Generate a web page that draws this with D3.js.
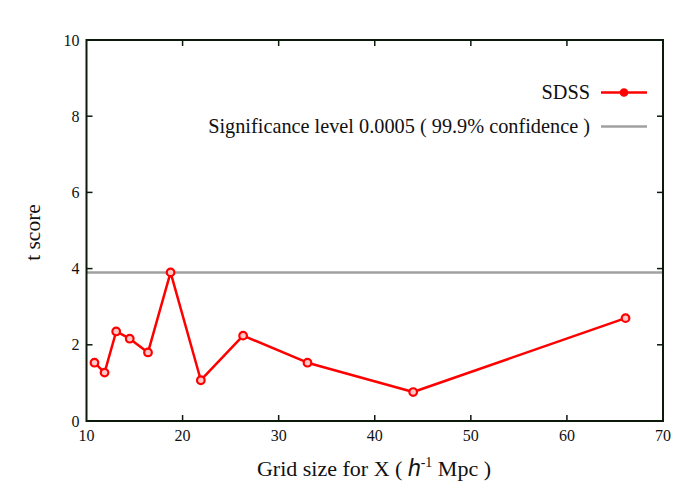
<!DOCTYPE html>
<html><head><meta charset="utf-8">
<script src="https://cdn.jsdelivr.net/npm/d3@7"></script>
<style>body{margin:0;background:#fff} text{font-family:"Liberation Serif","DejaVu Serif",serif}</style>
</head><body>
<svg id="c" width="700" height="500"></svg>
<script>
const gridSize = [10.83, 11.88, 13.09, 14.5, 16.4, 18.75, 21.9, 26.3, 33.0, 44.0, 66.1];
const tScore   = [1.53, 1.27, 2.35, 2.16, 1.80, 3.90, 1.07, 2.24, 1.53, 0.76, 2.70];
const sigLevel = 3.9;
const xTicks = [10, 20, 30, 40, 50, 60, 70];
const yTicks = [0, 2, 4, 6, 8, 10];
const seriesName = "SDSS";
const sigName = "Significance level 0.0005 ( 99.9% confidence )";

const svg = d3.select("#c");
const L = 86.5, R = 663, T = 40, B = 421;
const x = d3.scaleLinear().domain([10, 70]).range([L, R]);
const y = d3.scaleLinear().domain([0, 10]).range([B, T]);
const axisColor = "#0b1a0b";

svg.append("line").attr("x1", x(10)).attr("x2", x(70))
  .attr("y1", y(sigLevel)).attr("y2", y(sigLevel))
  .attr("stroke", "#a0a0a0").attr("stroke-width", 2.5);

const line = d3.line().x((d, i) => x(gridSize[i])).y(d => y(d));
svg.append("path").datum(tScore).attr("d", line)
  .attr("fill", "none").attr("stroke", "#ff0000").attr("stroke-width", 2.5)
  .attr("stroke-linejoin", "round");
svg.selectAll("circle.pt").data(tScore).enter().append("circle")
  .attr("class", "pt")
  .attr("cx", (d, i) => x(gridSize[i])).attr("cy", d => y(d)).attr("r", 3.8)
  .attr("fill", "#ffc8c8").attr("stroke", "#ff0000").attr("stroke-width", 2.2);

svg.append("rect").attr("x", L).attr("y", T).attr("width", R - L).attr("height", B - T)
  .attr("fill", "none").attr("stroke", axisColor).attr("stroke-width", 2);

const tl = 6;
const gx = svg.append("g");
xTicks.forEach(v => {
  if (v > 10 && v < 70) {
    gx.append("line").attr("x1", x(v)).attr("x2", x(v)).attr("y1", B).attr("y2", B - tl).attr("stroke", axisColor).attr("stroke-width", 1.5);
    gx.append("line").attr("x1", x(v)).attr("x2", x(v)).attr("y1", T).attr("y2", T + tl).attr("stroke", axisColor).attr("stroke-width", 1.5);
  }
  gx.append("text").attr("x", x(v)).attr("y", B + 20).attr("text-anchor", "middle")
    .attr("font-size", 16).attr("fill", "#111").text(v);
});
yTicks.forEach(v => {
  if (v > 0 && v < 10) {
    gx.append("line").attr("x1", L).attr("x2", L + tl).attr("y1", y(v)).attr("y2", y(v)).attr("stroke", axisColor).attr("stroke-width", 1.5);
    gx.append("line").attr("x1", R).attr("x2", R - tl).attr("y1", y(v)).attr("y2", y(v)).attr("stroke", axisColor).attr("stroke-width", 1.5);
  }
  gx.append("text").attr("x", L - 7).attr("y", y(v) + 5.5).attr("text-anchor", "end")
    .attr("font-size", 16).attr("fill", "#111").text(v);
});

const xt = svg.append("text").attr("x", 374).attr("y", 476).attr("text-anchor", "middle")
  .attr("font-size", 22).attr("fill", "#111");
xt.append("tspan").text("Grid size for X ( ");
xt.append("tspan").style("font-family", "'Liberation Sans', Arial, sans-serif").attr("font-style", "italic").attr("font-size", 23).text("h");
xt.append("tspan").attr("font-size", 14).attr("dy", -9).text("-1");
xt.append("tspan").attr("dy", 9).text(" Mpc )");

svg.append("text").attr("transform", `translate(40,${(T + B) / 2 + 2}) rotate(-90)`)
  .attr("text-anchor", "middle").attr("font-size", 21.5)
  .attr("fill", "#111").text("t score");

const lx1 = 601, lx2 = 647;
svg.append("text").attr("x", 590).attr("y", 99).attr("text-anchor", "end")
  .attr("font-size", 20.3).attr("fill", "#111").text(seriesName);
svg.append("line").attr("x1", lx1).attr("x2", lx2).attr("y1", 92.5).attr("y2", 92.5)
  .attr("stroke", "#ff0000").attr("stroke-width", 2.5);
svg.append("circle").attr("cx", (lx1 + lx2) / 2).attr("cy", 92.5).attr("r", 3.6)
  .attr("fill", "#ff0000").attr("stroke", "#ff0000").attr("stroke-width", 1.5);
svg.append("text").attr("x", 590).attr("y", 133).attr("text-anchor", "end")
  .attr("font-size", 20.3).attr("fill", "#111").text(sigName);
svg.append("line").attr("x1", lx1).attr("x2", lx2).attr("y1", 126.5).attr("y2", 126.5)
  .attr("stroke", "#a0a0a0").attr("stroke-width", 2.5);
</script>
</body></html>
